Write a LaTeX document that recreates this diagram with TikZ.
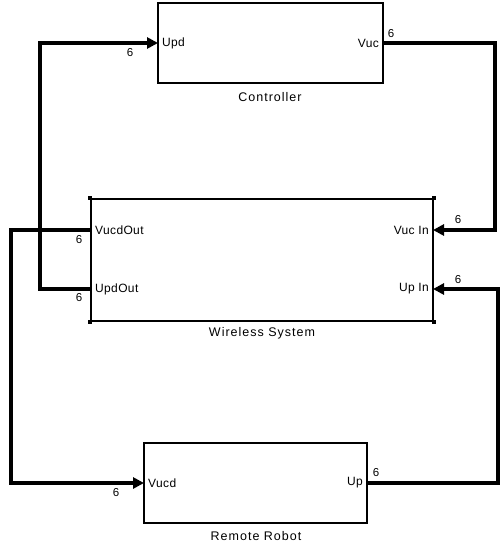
\documentclass[tikz,border=0pt]{standalone}
\usepackage{fontspec}
\setmainfont{Liberation Sans}
\newfontfamily\lblfont[LetterSpace=8]{Liberation Sans}
\newfontfamily\portfont[LetterSpace=3]{Liberation Sans}
\usetikzlibrary{arrows.meta}
\begin{document}
\begin{tikzpicture}[x=1pt,y=-1pt,
  blk/.style={draw, line width=1.2pt, minimum width=#1, inner sep=0pt, fill=white},
  sigarr/.style={line width=3.6pt, -{Triangle[length=11pt,width=11pt]}, shorten >=0pt},
  port/.style={font=\portfont\fontsize{12}{14}\selectfont, inner sep=4pt},
  dimlbl/.style={font=\fontsize{11.5}{13}\selectfont, inner sep=0pt},
  caption/.style={font=\lblfont\fontsize{12.5}{14}\selectfont, inner sep=0pt},
  cornermark/.style={fill=black, minimum size=4pt, inner sep=0pt}]
\useasboundingbox (0,0) rectangle (500,546);
\fill[white] (0,0) rectangle (500,546);
% blocks
\node[blk=225pt, minimum height=80pt] (ctrl) at (270.5,43) {};
\node[blk=342pt, minimum height=122pt] (wls) at (262,260) {};
\node[blk=223pt, minimum height=80pt] (rob) at (255.5,483) {};
\foreach \c in {north west,north east,south west,south east}
  \node[cornermark] at (wls.\c) {};
% captions
\node[caption] (ctrlcap) at (270,97) {Controller};
\node[caption] (wlscap) at (262,333) {Wireless System};
\node[caption] (robcap) at (256,536) {Remote Robot};
% ports
\coordinate (cUpd) at (158,43);
\coordinate (cVuc) at (383,43);
\coordinate (wVucdOut) at (91,230);
\coordinate (wUpdOut) at (91,289);
\coordinate (wVucIn) at (433,230);
\coordinate (wUpIn) at (433,289);
\coordinate (rVucd) at (144,483);
\coordinate (rUp) at (367,483);
\node[port, anchor=west] (lUpd) at (cUpd) {Upd};
\node[port, anchor=east] (lVuc) at (cVuc) {Vuc};
\node[port, anchor=west] (lVucdOut) at (wVucdOut) {VucdOut};
\node[port, anchor=west] (lUpdOut) at (wUpdOut) {UpdOut};
\node[port, anchor=east] (lVucIn) at (wVucIn) {Vuc In};
\node[port, anchor=east] (lUpIn) at (wUpIn) {Up In};
\node[port, anchor=west] (lVucd) at (rVucd) {Vucd};
\node[port, anchor=east] (lUp) at (rUp) {Up};
% connectors
\draw[sigarr] (wUpdOut) -- (40,289) -- (40,43) -- (cUpd);
\draw[sigarr] (cVuc) -- (495,43) -- (495,230) -- (wVucIn);
\draw[sigarr] (wVucdOut) -- (11,230) -- (11,483) -- (rVucd);
\draw[sigarr] (rUp) -- (498,483) -- (498,289) -- (wUpIn);
% widths
\node[dimlbl] (d1) at (130,53) {6};
\node[dimlbl] (d2) at (391,34) {6};
\node[dimlbl] (d3) at (458,220) {6};
\node[dimlbl] (d4) at (458,280) {6};
\node[dimlbl] (d5) at (79,240) {6};
\node[dimlbl] (d6) at (79,298) {6};
\node[dimlbl] (d7) at (116,493) {6};
\node[dimlbl] (d8) at (376,473) {6};
\end{tikzpicture}
\end{document}
